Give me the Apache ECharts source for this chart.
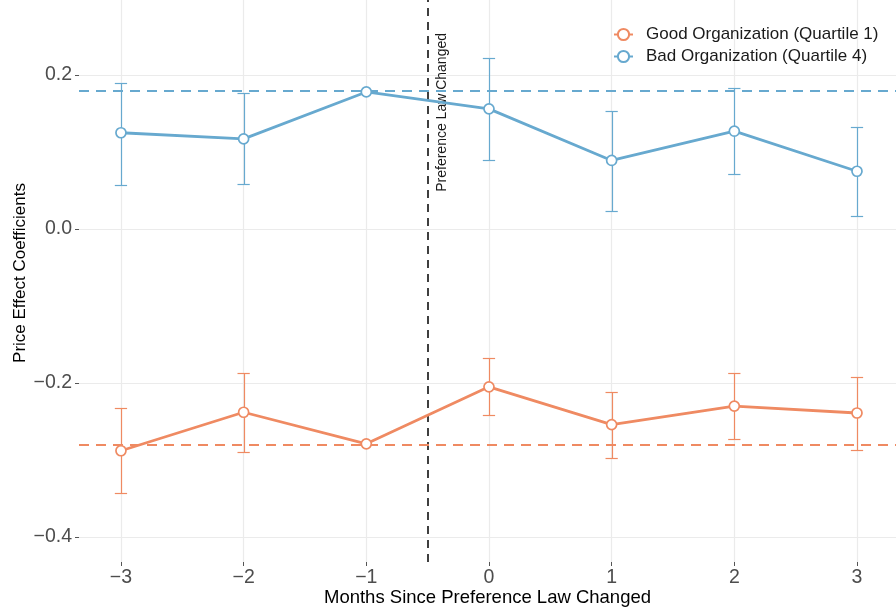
<!DOCTYPE html>
<html>
<head>
<meta charset="utf-8">
<title>Price Effect Coefficients by Month</title>
<script src="https://cdn.jsdelivr.net/npm/echarts@6/dist/echarts.min.js"></script>
<style>
  html, body { margin: 0; padding: 0; background: #fff; }
  #chart { width: 896px; height: 610px; }
</style>
</head>
<body>
<div id="chart"></div>
<script>
// Event-study coefficients, months relative to the law change
const months = [-3, -2, -1, 0, 1, 2, 3];

const goodName = 'Good Organization (Quartile 1)';
const goodCoef = [-0.288, -0.238, -0.279, -0.205, -0.254, -0.230, -0.239];
const goodLow  = [-0.343, -0.290, null, -0.242, -0.297, -0.273, -0.287];
const goodHigh = [-0.233, -0.187, null, -0.168, -0.212, -0.187, -0.192];
const goodBaseline = -0.279;

const badName = 'Bad Organization (Quartile 4)';
const badCoef = [0.125, 0.117, 0.178, 0.156, 0.089, 0.127, 0.075];
const badLow  = [0.057, 0.058, null, 0.090, 0.024, 0.072, 0.017];
const badHigh = [0.190, 0.176, null, 0.222, 0.153, 0.183, 0.133];
const badBaseline = 0.178;

const eventMonth = -0.5;
const eventLabel = 'Preference Law Changed';

const xTicks = [-3, -2, -1, 0, 1, 2, 3];
const yTicks = [-0.4, -0.2, 0.0, 0.2];

const xTitle = 'Months Since Preference Law Changed';
const yTitle = 'Price Effect Coefficients';

const ORANGE = '#EF8A62';
const BLUE = '#67A9CF';
const FONT = '"Liberation Sans", Arial, Helvetica, sans-serif';
const minus = s => String(s).replace('-', '\u2212');

function pointsOf(coef) {
  return months.map((m, i) => [m, coef[i]]);
}
function barsOf(low, high) {
  return months
    .map((m, i) => [m, low[i], high[i]])
    .filter(d => d[1] !== null && d[2] !== null);
}

// Whisker with end caps, positioned through the axes (snapped to the pixel grid)
const CAP_HALF = 0.05;
const snap = v => Math.round(v) + 0.5;
function errorBarRenderer(color) {
  return function (params, api) {
    const x = api.value(0), lo = api.value(1), hi = api.value(2);
    const top = api.coord([x, hi]);
    const bot = api.coord([x, lo]);
    const left = api.coord([x - CAP_HALF, hi])[0];
    const right = api.coord([x + CAP_HALF, hi])[0];
    const cx = snap(top[0]);
    const yTop = snap(top[1]);
    const yBot = snap(bot[1]);
    const style = { stroke: color, lineWidth: 1.2 };
    return {
      type: 'group',
      children: [
        { type: 'line', shape: { x1: cx, y1: yTop, x2: cx, y2: yBot }, style },
        { type: 'line', shape: { x1: left, y1: yTop, x2: right, y2: yTop }, style },
        { type: 'line', shape: { x1: left, y1: yBot, x2: right, y2: yBot }, style }
      ]
    };
  };
}

function lineSeries(name, coef, color, baseline) {
  return {
    name,
    type: 'line',
    data: pointsOf(coef),
    z: 4,
    symbol: 'circle',
    symbolSize: 10,
    showSymbol: true,
    lineStyle: { color, width: 2.8 },
    itemStyle: { color: '#ffffff', borderColor: color, borderWidth: 1.7 },
    emphasis: { disabled: true },
    markLine: {
      z: 3,
      silent: true,
      symbol: 'none',
      label: { show: false },
      lineStyle: { color, width: 2, type: [10, 7] },
      data: [{ yAxis: baseline }]
    }
  };
}

function errorSeries(low, high, color) {
  return {
    type: 'custom',
    z: 2,
    silent: true,
    renderItem: errorBarRenderer(color),
    encode: { x: 0, y: [1, 2] },
    data: barsOf(low, high)
  };
}

const chart = echarts.init(document.getElementById('chart'), null, { renderer: 'canvas' });

chart.setOption({
  animation: false,
  backgroundColor: '#ffffff',
  textStyle: { fontFamily: FONT },
  grid: { left: 79, right: 0, top: 0, bottom: 48, containLabel: false, outerBoundsMode: 'none' },
  legend: {
    orient: 'vertical',
    left: 608,
    top: 21,
    itemWidth: 19,
    itemHeight: 14,
    itemGap: 5,
    data: [goodName, badName],
    textStyle: { fontSize: 17, color: '#1a1a1a', fontFamily: FONT, padding: [0, 0, 0, 8] }
  },
  xAxis: {
    type: 'value',
    min: -3.342,
    max: 3.318,
    name: xTitle,
    nameLocation: 'middle',
    nameGap: 26,
    nameMoveOverlap: false,
    nameTextStyle: { fontSize: 18.5, color: '#000', fontFamily: FONT },
    axisLine: { show: false, onZero: false },
    axisTick: { show: true, length: 4, customValues: xTicks, lineStyle: { color: '#555', width: 1 } },
    axisLabel: { customValues: xTicks, fontSize: 19.5, color: '#4D4D4D', margin: 6, formatter: v => minus(v) },
    splitLine: { show: false }
  },
  yAxis: {
    type: 'value',
    min: -0.4325,
    max: 0.2974,
    name: yTitle,
    nameLocation: 'middle',
    nameGap: 50,
    nameMoveOverlap: false,
    nameTextStyle: { fontSize: 17, color: '#000', fontFamily: FONT, padding: [0, 0, 0, 16] },
    axisLine: { show: false, onZero: false },
    axisTick: { show: true, length: 4, customValues: yTicks, lineStyle: { color: '#555', width: 1 } },
    axisLabel: { customValues: yTicks, fontSize: 19.5, color: '#4D4D4D', margin: 7, formatter: v => minus(Number(v).toFixed(1)) },
    splitLine: { show: false }
  },
  series: [
    lineSeries(goodName, goodCoef, ORANGE, goodBaseline),
    lineSeries(badName, badCoef, BLUE, badBaseline),
    errorSeries(goodLow, goodHigh, ORANGE),
    errorSeries(badLow, badHigh, BLUE),
    // panel grid lines at the major ticks
    {
      type: 'line',
      data: [],
      z: 0,
      silent: true,
      markLine: {
        z: 0,
        silent: true,
        symbol: 'none',
        label: { show: false },
        lineStyle: { color: '#EBEBEB', width: 1.2, type: 'solid' },
        data: xTicks.map(v => ({ xAxis: v })).concat(yTicks.map(v => ({ yAxis: v })))
      }
    },
    // event marker between months -1 and 0
    {
      type: 'line',
      data: [],
      z: 1,
      silent: true,
      markLine: {
        z: 1,
        silent: true,
        symbol: 'none',
        lineStyle: { color: '#3F3F3F', width: 2, type: [8, 6] },
        label: {
          show: true,
          formatter: eventLabel,
          position: 'insideEndBottom',
          distance: [33, 8],
          fontSize: 14,
          color: '#1a1a1a',
          fontFamily: FONT
        },
        data: [{ xAxis: eventMonth }]
      }
    }
  ]
});
</script>
</body>
</html>
